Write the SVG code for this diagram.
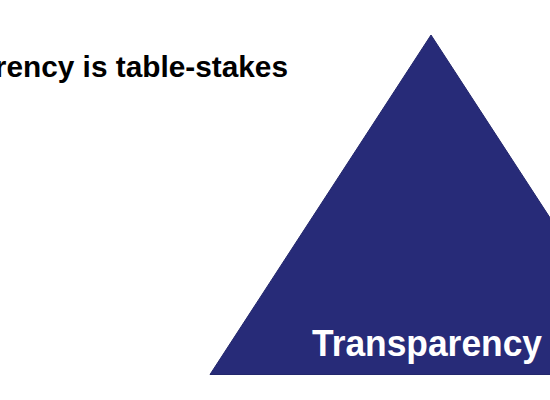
<svg xmlns="http://www.w3.org/2000/svg" width="550" height="400" viewBox="0 0 550 400">
  <style>
    .title { font-family: "Liberation Sans", Arial, Helvetica, sans-serif; font-weight: bold; font-size: 29.8px; fill: #000000; }
    .label { font-family: "Liberation Sans", Arial, Helvetica, sans-serif; font-weight: bold; font-size: 37px; fill: #ffffff; }
    .pyramid { fill: #272B78; stroke: #23276c; stroke-width: 1; }
  </style>
  <rect x="0" y="0" width="550" height="400" fill="#ffffff"/>
  <g id="title">
    <text class="title" x="288" y="77" text-anchor="end">Transparency is table-stakes</text>
  </g>
  <g id="pyramid-transparency">
    <polygon class="pyramid" points="431,35 210,374.5 652,374.5"/>
    <text class="label" x="312" y="356" textLength="230" lengthAdjust="spacingAndGlyphs">Transparency</text>
  </g>
  <g id="connectors"></g>
</svg>
